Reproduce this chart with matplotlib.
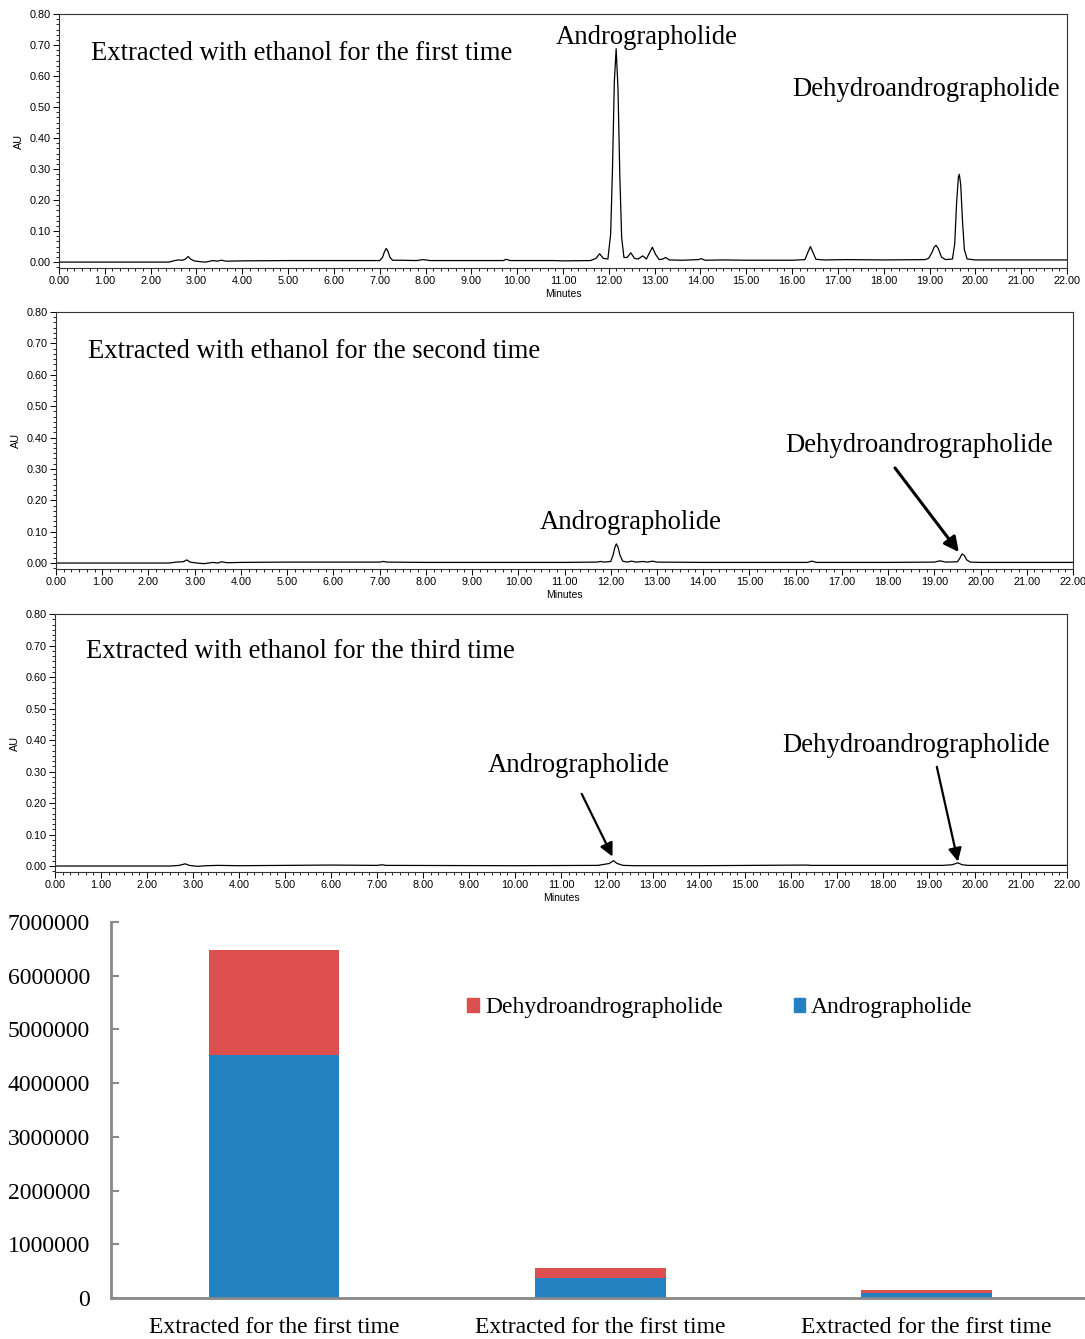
import matplotlib
matplotlib.use('Agg')
import matplotlib.pyplot as plt
from matplotlib.ticker import MultipleLocator, AutoMinorLocator, FormatStrFormatter
from matplotlib.patches import Patch

W, H = 1085, 1339

# chromatogram traces (minutes, AU)
trace1_t = [0.00, 2.40, 2.50, 2.60, 2.70, 2.76, 2.82, 2.88, 2.95, 3.10, 3.20, 3.30, 3.36, 3.45, 3.55,
            3.65, 4.00, 5.00, 6.00, 7.00, 7.06, 7.10, 7.14, 7.18, 7.22, 7.28, 7.45, 7.80, 7.95, 8.10,
            9.00, 9.70, 9.76, 9.85, 10.80, 11.00, 11.60, 11.72, 11.80, 11.88, 11.98, 12.04, 12.08,
            12.12, 12.16, 12.20, 12.24, 12.28, 12.33, 12.40, 12.48, 12.56, 12.64, 12.74, 12.82, 12.88,
            12.95, 13.02, 13.10, 13.18, 13.24, 13.32, 13.60, 13.95, 14.02, 14.10, 14.50, 15.00, 16.00,
            16.28, 16.34, 16.40, 16.46, 16.52, 16.70, 17.20, 18.00, 18.90, 18.98, 19.05, 19.10, 19.14,
            19.19, 19.26, 19.35, 19.50, 19.55, 19.59, 19.63, 19.65, 19.68, 19.72, 19.76, 19.82, 20.00,
            21.00, 22.00]
trace1_au = [0.000, 0.000, 0.004, 0.007, 0.006, 0.010, 0.018, 0.009, 0.004, 0.001, 0.000, 0.003, 0.005,
             0.003, 0.006, 0.003, 0.004, 0.005, 0.005, 0.005, 0.015, 0.032, 0.044, 0.035, 0.016, 0.006,
             0.006, 0.005, 0.008, 0.005, 0.005, 0.005, 0.009, 0.005, 0.005, 0.004, 0.005, 0.012, 0.027,
             0.012, 0.010, 0.090, 0.300, 0.580, 0.688, 0.560, 0.280, 0.080, 0.015, 0.015, 0.030, 0.012,
             0.010, 0.020, 0.010, 0.028, 0.048, 0.025, 0.008, 0.010, 0.015, 0.007, 0.006, 0.008, 0.011,
             0.006, 0.007, 0.006, 0.006, 0.008, 0.030, 0.050, 0.030, 0.009, 0.007, 0.008, 0.007, 0.008,
             0.012, 0.030, 0.048, 0.054, 0.044, 0.016, 0.008, 0.010, 0.060, 0.190, 0.275, 0.283, 0.250,
             0.130, 0.040, 0.010, 0.007, 0.007, 0.007]

trace2_t = [0.00, 2.45, 2.60, 2.75, 2.83, 2.90, 3.05, 3.20, 3.40, 3.50, 3.58, 3.70, 4.00, 5.00, 6.00,
            7.00, 7.08, 7.16, 8.00, 10.00, 11.00, 11.70, 11.78, 11.86, 12.00, 12.05, 12.09, 12.12,
            12.16, 12.20, 12.26, 12.35, 12.45, 12.55, 12.70, 12.80, 12.90, 13.00, 14.00, 16.25, 16.35,
            16.45, 18.00, 19.00, 19.12, 19.25, 19.50, 19.55, 19.60, 19.65, 19.70, 19.78, 20.00, 22.00]
trace2_au = [0.000, 0.000, 0.003, 0.004, 0.010, 0.003, 0.000, -0.002, 0.002, 0.000, 0.004, 0.001, 0.002,
             0.003, 0.003, 0.003, 0.005, 0.003, 0.002, 0.002, 0.002, 0.003, 0.005, 0.003, 0.005, 0.025,
             0.050, 0.061, 0.050, 0.025, 0.006, 0.003, 0.006, 0.003, 0.005, 0.003, 0.006, 0.003, 0.002,
             0.002, 0.006, 0.002, 0.002, 0.003, 0.007, 0.003, 0.004, 0.015, 0.029, 0.024, 0.010, 0.003,
             0.002, 0.002]

trace3_t = [0.00, 2.50, 2.70, 2.83, 2.92, 3.10, 3.30, 3.55, 4.00, 6.00, 7.00, 7.10, 7.20, 10.00, 11.80,
            12.05, 12.14, 12.22, 12.35, 12.60, 14.00, 16.35, 16.45, 19.00, 19.30, 19.50, 19.63, 19.72,
            19.85, 22.00]
trace3_au = [0.000, 0.000, 0.002, 0.007, 0.002, -0.001, 0.001, 0.002, 0.001, 0.003, 0.002, 0.004, 0.002,
             0.001, 0.002, 0.008, 0.017, 0.008, 0.002, 0.001, 0.001, 0.003, 0.002, 0.002, 0.002, 0.004,
             0.010, 0.004, 0.002, 0.002]

panel_titles = ['Extracted with ethanol for the first time',
                'Extracted with ethanol for the second time',
                'Extracted with ethanol for the third time']

# stacked bar data (peak areas)
bar_labels = ['Extracted for the first time', 'Extracted for the first time', 'Extracted for the first time']
andro_area = [4520000, 370000, 90000]
dehydro_area = [1950000, 190000, 60000]

RED = '#DD4F4F'
BLUE = '#2381C1'

plt.rcParams['font.family'] = ['Liberation Serif', 'DejaVu Serif']


def fpos(x, y):
    return x / W, 1 - y / H


def chrom_axes(fig, left, right, top, bottom):
    ax = fig.add_axes([left / W, 1 - bottom / H, (right - left) / W, (bottom - top) / H])
    ax.set_xlim(0, 22)
    ax.set_ylim(-0.019, 0.80)
    ax.xaxis.set_major_locator(MultipleLocator(1))
    ax.xaxis.set_minor_locator(AutoMinorLocator(6))
    ax.yaxis.set_major_locator(MultipleLocator(0.1))
    ax.yaxis.set_minor_locator(AutoMinorLocator(6))
    ax.xaxis.set_major_formatter(FormatStrFormatter('%.2f'))
    ax.yaxis.set_major_formatter(FormatStrFormatter('%.2f'))
    ax.tick_params(which='major', length=4, width=0.7, pad=2, labelsize=7.8,
                   labelfontfamily='Liberation Sans')
    ax.tick_params(which='minor', length=2, width=0.6)
    for s in ax.spines.values():
        s.set_linewidth(0.8)
        s.set_color('#333333')
    ax.set_xlabel('Minutes', fontsize=7.5, family='Liberation Sans', labelpad=2)
    ax.set_ylabel('AU', fontsize=7.8, family='Liberation Sans', labelpad=4)
    return ax


fig = plt.figure(figsize=(W / 100, H / 100), dpi=100)

ax1 = chrom_axes(fig, 59, 1067, 14, 268)
ax1.plot(trace1_t, trace1_au, color='black', lw=0.9)
ax2 = chrom_axes(fig, 56, 1073, 312, 569)
ax2.plot(trace2_t, trace2_au, color='black', lw=0.9)
ax3 = chrom_axes(fig, 55, 1067, 614, 872)
ax3.plot(trace3_t, trace3_au, color='black', lw=0.9)

fs = 19.2
labels = [
    (panel_titles[0], 91, 54), ('Andrographolide', 556, 37), ('Dehydroandrographolide', 792, 90),
    (panel_titles[1], 88, 351), ('Dehydroandrographolide', 785, 446), ('Andrographolide', 540, 522),
    (panel_titles[2], 86, 652), ('Andrographolide', 488, 766), ('Dehydroandrographolide', 782, 745),
]
for txt, x, y in labels:
    fx, fy = fpos(x, y)
    fig.text(fx, fy, txt, fontsize=fs, ha='left', va='center')

arrow = dict(arrowstyle='-|>', color='black', lw=2.2, mutation_scale=22, shrinkA=0, shrinkB=0)
ax2.annotate('', xy=(19.53, 0.035), xytext=(18.15, 0.303), arrowprops=arrow)
arrow3 = dict(arrowstyle='-|>', color='black', lw=1.6, mutation_scale=20, shrinkA=0, shrinkB=0)
ax3.annotate('', xy=(12.12, 0.030), xytext=(11.45, 0.229), arrowprops=arrow3)
ax3.annotate('', xy=(19.63, 0.014), xytext=(19.17, 0.315), arrowprops=arrow3)

# bar chart
axb = fig.add_axes([111 / W, 1 - 1298 / H, (1085 - 111) / W, (1298 - 922) / H])
xs = range(len(bar_labels))
b_andro = axb.bar(xs, andro_area, width=0.4, color=BLUE, label='Andrographolide')
b_dehydro = axb.bar(xs, dehydro_area, width=0.4, bottom=andro_area, color=RED,
                    label='Dehydroandrographolide')
axb.set_xlim(-0.5, 2.485)
axb.set_ylim(0, 7000000)
axb.yaxis.set_major_locator(MultipleLocator(1000000))
axb.yaxis.set_major_formatter(FormatStrFormatter('%d'))
axb.set_xticks(list(xs))
axb.set_xticklabels(bar_labels)
axb.tick_params(axis='y', direction='in', length=6, width=1.5, color='#888888', pad=15, labelsize=17)
axb.tick_params(axis='x', length=0, pad=14, labelsize=17)
for side in ['top', 'right']:
    axb.spines[side].set_visible(False)
for side in ['left', 'bottom']:
    axb.spines[side].set_color('#888888')
    axb.spines[side].set_linewidth(2)

handles = [Patch(color=RED), Patch(color=BLUE)]
lx, ly = fpos(720, 1008)
fig.legend(handles, ['Dehydroandrographolide', 'Andrographolide'], loc='center',
           bbox_to_anchor=(lx, ly), ncol=2, frameon=False, fontsize=17,
           handlelength=0.5, handleheight=0.5, handletextpad=0.25, columnspacing=3.0)

fig.savefig('out.png', dpi=100)
